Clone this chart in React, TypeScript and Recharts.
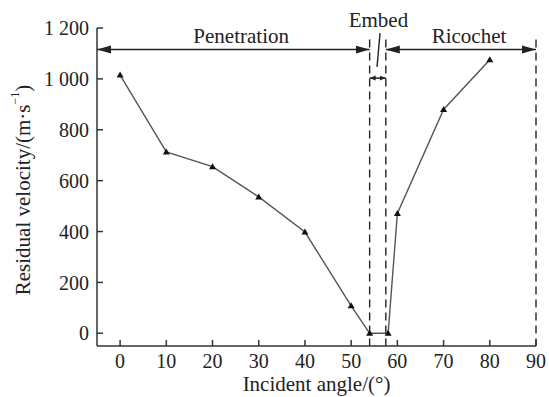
import { LineChart, Line, XAxis, YAxis, ReferenceLine, ReferenceDot, Label } from 'recharts';

const angles = [0, 10, 20, 30, 40, 50, 54, 58, 60, 70, 80];
const velocities = [1015, 713, 655, 536, 398, 108, 0, 0, 471, 880, 1075];
const xTicks = [0, 10, 20, 30, 40, 50, 60, 70, 80, 90];
const yTicks = [0, 200, 400, 600, 800, 1000, 1200];
// regime boundaries (dashed) and annotation levels
const boundaries = [54, 57.5, 90];
const arrowLevel = 1115;
const embedArrowLevel = 1003;

const data = angles.map((a, i) => ({ angle: a, v: velocities[i] }));

const FONT = "'Liberation Serif', 'DejaVu Serif', serif";
const TXT = { fontFamily: FONT };
const TICK_MARGIN = 8;
const AXIS = '#333';

const fmtY = (v: number) => (v >= 1000 ? `${Math.floor(v / 1000)} ${String(v % 1000).padStart(3, '0')}` : String(v));

const XTick = (props: any) => {
  const { x, y, payload } = props;
  const axisY = y - TICK_MARGIN;
  return (
    <g>
      <line x1={x} x2={x} y1={axisY} y2={axisY - 6} stroke={AXIS} strokeWidth={1.5} />
      <text x={x} y={y} dy="0.71em" textAnchor="middle" style={TXT} fontSize={20} fill="#222">
        {payload.value}
      </text>
    </g>
  );
};

const YTick = (props: any) => {
  const { x, y, payload } = props;
  const axisX = x + TICK_MARGIN;
  return (
    <g>
      <line x1={axisX} x2={axisX + 6} y1={y} y2={y} stroke={AXIS} strokeWidth={1.5} />
      <text x={x} y={y} dy="0.355em" textAnchor="end" style={TXT} fontSize={20} fill="#222">
        {fmtY(payload.value)}
      </text>
    </g>
  );
};

const Triangle = (props: any) => {
  const { cx, cy } = props;
  if (cx == null || cy == null) return null;
  return <path d={`M${cx},${cy - 3.5} L${cx + 3.5},${cy + 2.5} L${cx - 3.5},${cy + 2.5} Z`} fill="#111" />;
};

const arrowShape = (start: string, end: string) => (p: any) =>
  <line x1={p.x1} y1={p.y1} x2={p.x2} y2={p.y2} stroke="#222" strokeWidth={1.5} markerStart={start} markerEnd={end} />;

const textShape = (txt: string) => (p: any) =>
  (
    <text x={p.cx} y={p.cy} textAnchor="middle" style={TXT} fontSize={21} fill="#222">
      {txt}
    </text>
  );

export default function App() {
  return (
    <div style={{ position: 'absolute', left: 0, top: 0, width: 549, height: 397, background: '#fff', fontFamily: FONT }}>
      <LineChart width={549} height={397} data={data} margin={{ top: 28, right: 13, bottom: 0, left: 0 }} style={TXT}>
        <defs>
          <marker id="bigEnd" markerUnits="userSpaceOnUse" markerWidth={14} markerHeight={10} refX={14} refY={5} orient="auto">
            <path d="M0,1 L14,5 L0,9 Z" fill="#222" />
          </marker>
          <marker id="bigStart" markerUnits="userSpaceOnUse" markerWidth={14} markerHeight={10} refX={0} refY={5} orient="auto">
            <path d="M14,1 L0,5 L14,9 Z" fill="#222" />
          </marker>
          <marker id="smEnd" markerUnits="userSpaceOnUse" markerWidth={6} markerHeight={6} refX={6} refY={3} orient="auto">
            <path d="M0,0.5 L6,3 L0,5.5 Z" fill="#222" />
          </marker>
          <marker id="smStart" markerUnits="userSpaceOnUse" markerWidth={6} markerHeight={6} refX={0} refY={3} orient="auto">
            <path d="M6,0.5 L0,3 L6,5.5 Z" fill="#222" />
          </marker>
        </defs>
        <XAxis
          dataKey="angle"
          type="number"
          domain={[-5, 90]}
          ticks={xTicks}
          allowDataOverflow
          height={51}
          tickSize={0}
          tickLine={false}
          tickMargin={TICK_MARGIN}
          tick={<XTick />}
          axisLine={{ stroke: AXIS, strokeWidth: 1.5 }}
        >
          <Label
            content={(p: any) => (
              <text
                x={p.viewBox.x + p.viewBox.width / 2}
                y={p.viewBox.y + p.viewBox.height - 6}
                textAnchor="middle"
                style={TXT}
                fontSize={21}
                fill="#222"
              >
                Incident angle/(°)
              </text>
            )}
          />
        </XAxis>
        <YAxis
          type="number"
          domain={[-50, 1200]}
          ticks={yTicks}
          allowDataOverflow
          width={97}
          tickSize={0}
          tickLine={false}
          tickMargin={TICK_MARGIN}
          tick={<YTick />}
          axisLine={{ stroke: AXIS, strokeWidth: 1.5 }}
        >
          <Label
            content={(p: any) => {
              const cx = p.viewBox.x + 23;
              const cy = p.viewBox.y + p.viewBox.height / 2 + 3;
              return (
                <text
                  x={cx}
                  y={cy}
                  transform={`rotate(-90 ${cx} ${cy})`}
                  textAnchor="middle"
                  dominantBaseline="central"
                  style={TXT}
                  fontSize={21}
                  fill="#222"
                >
                  Residual velocity/(m·s
                  <tspan fontSize={12} dy={-8}>−1</tspan>
                  <tspan dy={8}>)</tspan>
                </text>
              );
            }}
          />
        </YAxis>

        {boundaries.map((b, i) => (
          <ReferenceLine
            key={b}
            segment={[{ x: b, y: 1155 }, { x: b, y: -50 }]}
            stroke={i === 2 ? '#666' : '#222'}
            strokeWidth={i === 2 ? 2 : 1.4}
            strokeDasharray="8 5"
            ifOverflow="visible"
          />
        ))}

        <ReferenceLine
          segment={[{ x: -5, y: arrowLevel }, { x: boundaries[0], y: arrowLevel }]}
          ifOverflow="visible"
          shape={arrowShape('url(#bigStart)', 'url(#bigEnd)')}
        />
        <ReferenceLine
          segment={[{ x: boundaries[1], y: arrowLevel }, { x: boundaries[2], y: arrowLevel }]}
          ifOverflow="visible"
          shape={arrowShape('url(#bigStart)', 'url(#bigEnd)')}
        />
        <ReferenceLine
          segment={[{ x: boundaries[0], y: embedArrowLevel }, { x: boundaries[1], y: embedArrowLevel }]}
          ifOverflow="visible"
          shape={arrowShape('url(#smStart)', 'url(#smEnd)')}
        />
        <ReferenceLine
          segment={[{ x: 56.25, y: 1180 }, { x: 55.6, y: 1047 }]}
          stroke="#222"
          strokeWidth={1.4}
          ifOverflow="visible"
        />

        <ReferenceDot x={26.2} y={1141} r={0} ifOverflow="visible" shape={textShape('Penetration')} />
        <ReferenceDot x={55.9} y={1204} r={0} ifOverflow="visible" shape={textShape('Embed')} />
        <ReferenceDot x={75.5} y={1141} r={0} ifOverflow="visible" shape={textShape('Ricochet')} />

        <Line
          dataKey="v"
          stroke="#555"
          strokeWidth={1.4}
          dot={<Triangle />}
          activeDot={false}
          isAnimationActive={false}
        />
      </LineChart>
    </div>
  );
}
